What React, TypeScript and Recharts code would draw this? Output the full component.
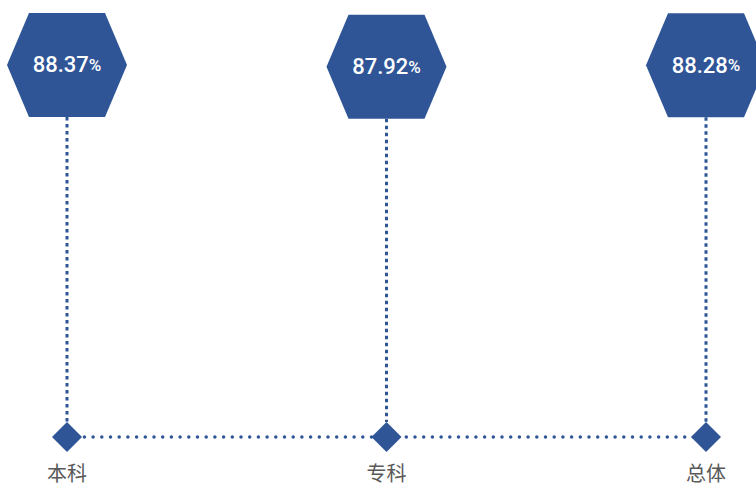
import React from "react";
import { ComposedChart, Line, XAxis, YAxis } from "recharts";

// categories and rates
const categories = ["本科", "专科", "总体"];
const rates = [88.37, 87.92, 88.28];
const baseline = [0, 0, 0];

const data = categories.map((name, i) => ({ name, rate: rates[i], base: baseline[i] }));

const BLUE = "#2F5597";
const W = 756;
const H = 488;
const AXIS_H = 51;
const PLOT_BOTTOM = H - AXIS_H;

// hexagon with the value in it, plus a dotted drop line to the baseline
const renderHex = (props: any) => {
  const { cx, cy, value, index } = props;
  if (cx == null || cy == null) return <g key={`hex-${index}`} />;
  const hw = 60;
  const tw = 38;
  const hh = 52;
  const pts = [
    [cx - hw, cy],
    [cx - tw, cy - hh],
    [cx + tw, cy - hh],
    [cx + hw, cy],
    [cx + tw, cy + hh],
    [cx - tw, cy + hh],
  ]
    .map((p) => p.join(","))
    .join(" ");
  return (
    <g key={`hex-${index}`}>
      <line
        x1={cx}
        y1={cy + hh}
        x2={cx}
        y2={PLOT_BOTTOM - 15}
        stroke={BLUE}
        strokeWidth={3}
        strokeDasharray="3.5 3.5"
      />
      <polygon points={pts} fill={BLUE} />
      <text
        x={cx}
        y={cy}
        textAnchor="middle"
        dominantBaseline="central"
        fill="#fff"
        fontFamily="Roboto, 'Liberation Sans', sans-serif"
        fontWeight={500}
        fontSize={22}
      >
        {Number(value).toFixed(2)}
        <tspan fontSize={17}>%</tspan>
      </text>
    </g>
  );
};

const renderDiamond = (props: any) => {
  const { cx, cy, index } = props;
  if (cx == null || cy == null) return <g key={`dia-${index}`} />;
  const s = 15;
  return (
    <polygon
      key={`dia-${index}`}
      points={`${cx},${cy - s} ${cx + s},${cy} ${cx},${cy + s} ${cx - s},${cy}`}
      fill={BLUE}
    />
  );
};

const renderTick = (props: any) => {
  const { x, y, payload } = props;
  return (
    <text
      x={x}
      y={y}
      dy={27}
      textAnchor="middle"
      dominantBaseline="central"
      fill="#595959"
      fontFamily="'Noto Sans CJK SC', sans-serif"
      fontSize={20}
    >
      {payload.value}
    </text>
  );
};

export default function App() {
  return (
    <div style={{ position: "absolute", left: 0, top: 0, width: W, height: H, background: "#fff" }}>
      <ComposedChart width={W} height={H} data={data} margin={{ top: 16, right: 0, bottom: 0, left: 0 }}>
        <XAxis
          dataKey="name"
          padding={{ left: 67, right: 50 }}
          axisLine={false}
          tickLine={false}
          height={AXIS_H}
          tick={renderTick}
          interval={0}
        />
        <YAxis hide domain={[0, 100]} />
        <Line
          dataKey="rate"
          stroke="none"
          dot={renderHex}
          activeDot={false}
          isAnimationActive={false}
        />
        <Line
          dataKey="base"
          stroke={BLUE}
          strokeWidth={3.5}
          strokeDasharray="0 8.7"
          strokeLinecap="round"
          dot={renderDiamond}
          activeDot={false}
          isAnimationActive={false}
        />
      </ComposedChart>
    </div>
  );
}
